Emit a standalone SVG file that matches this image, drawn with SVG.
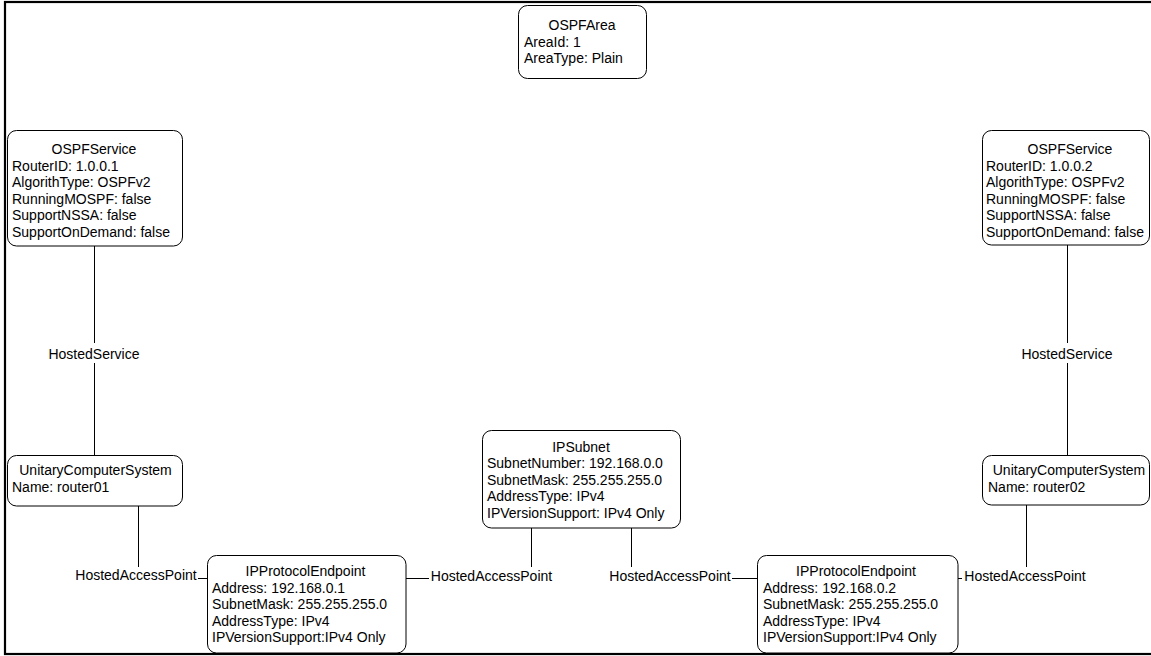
<svg xmlns="http://www.w3.org/2000/svg" width="1151" height="656" viewBox="0 0 1151 656">
  <style>
    .box { fill: #ffffff; stroke: #000000; stroke-width: 1; }
    .t { font-family: "Liberation Sans", Arial, sans-serif; font-size: 14px; fill: #000000; }
    .c { text-anchor: middle; }
    .wire { fill: none; stroke: #000000; stroke-width: 1; }
    .lblbg { fill: #ffffff; stroke: none; }
  </style>

  <rect width="1151" height="656" fill="#ffffff"/>
  <!-- outer frame (left, top and bottom edges; right edge runs past the canvas) -->
  <rect x="5" y="2" width="1170" height="652" fill="none" stroke="#000000" stroke-width="2.2"/>

  <!-- connectors -->
  <g id="connectors">
    <path class="wire" d="M94.5,246 V455"/>
    <path class="wire" d="M1067.5,245 V455"/>
    <path class="wire" d="M138.5,506 V578.5 H207"/>
    <path class="wire" d="M406,578.5 H531.5 V528"/>
    <path class="wire" d="M631.5,528 V578.5 H757"/>
    <path class="wire" d="M958,578.5 H1026.5 V505"/>

    <rect class="lblbg" x="47" y="343" width="95" height="20"/>
    <text class="t c" x="94" y="359">HostedService</text>
    <rect class="lblbg" x="1020" y="343" width="95" height="20"/>
    <text class="t c" x="1067" y="359">HostedService</text>

    <rect class="lblbg" x="74" y="567" width="124" height="18"/>
    <text class="t c" x="136" y="580">HostedAccessPoint</text>
    <rect class="lblbg" x="429" y="567" width="125" height="18"/>
    <text class="t c" x="491.5" y="581">HostedAccessPoint</text>
    <rect class="lblbg" x="608" y="567" width="124" height="18"/>
    <text class="t c" x="670" y="581">HostedAccessPoint</text>
    <rect class="lblbg" x="962" y="567" width="126" height="18"/>
    <text class="t c" x="1025" y="581">HostedAccessPoint</text>
  </g>

  <g id="ospf-area">
    <rect class="box" x="518.5" y="5.5" width="128" height="73" rx="9"/>
    <text class="t c" x="582" y="30">OSPFArea</text>
    <text class="t" x="524" y="46.5">AreaId: 1</text>
    <text class="t" x="524" y="63">AreaType: Plain</text>
  </g>

  <g id="ospf-service-1">
    <rect class="box" x="7.5" y="130.5" width="175" height="115.5" rx="9"/>
    <text class="t c" x="94" y="154">OSPFService</text>
    <text class="t" x="12" y="170.5">RouterID: 1.0.0.1</text>
    <text class="t" x="12" y="187">AlgorithType: OSPFv2</text>
    <text class="t" x="12" y="203.5">RunningMOSPF: false</text>
    <text class="t" x="12" y="220">SupportNSSA: false</text>
    <text class="t" x="12" y="236.5">SupportOnDemand: false</text>
  </g>

  <g id="ospf-service-2">
    <rect class="box" x="982.5" y="130.5" width="167" height="114.5" rx="9"/>
    <text class="t c" x="1070" y="154">OSPFService</text>
    <text class="t" x="986" y="170.5">RouterID: 1.0.0.2</text>
    <text class="t" x="986" y="187">AlgorithType: OSPFv2</text>
    <text class="t" x="986" y="203.5">RunningMOSPF: false</text>
    <text class="t" x="986" y="220">SupportNSSA: false</text>
    <text class="t" x="986" y="236.5">SupportOnDemand: false</text>
  </g>

  <g id="computer-system-1">
    <rect class="box" x="7.5" y="455.5" width="175" height="50.5" rx="9"/>
    <text class="t c" x="95.5" y="475">UnitaryComputerSystem</text>
    <text class="t" x="12" y="491.5">Name: router01</text>
  </g>

  <g id="computer-system-2">
    <rect class="box" x="982.5" y="455.5" width="167" height="49.5" rx="9"/>
    <text class="t c" x="1069" y="475">UnitaryComputerSystem</text>
    <text class="t" x="988" y="491.5">Name: router02</text>
  </g>

  <g id="ip-subnet">
    <rect class="box" x="482.5" y="430.5" width="198" height="97.5" rx="9"/>
    <text class="t c" x="581" y="451.5">IPSubnet</text>
    <text class="t" x="487" y="468">SubnetNumber: 192.168.0.0</text>
    <text class="t" x="487" y="484.5">SubnetMask: 255.255.255.0</text>
    <text class="t" x="487" y="501">AddressType: IPv4</text>
    <text class="t" x="487" y="517.5">IPVersionSupport: IPv4 Only</text>
  </g>

  <g id="ip-endpoint-1">
    <rect class="box" x="207.5" y="555.5" width="198.5" height="97.5" rx="9"/>
    <text class="t c" x="305.5" y="576">IPProtocolEndpoint</text>
    <text class="t" x="212" y="592.5">Address: 192.168.0.1</text>
    <text class="t" x="212" y="609">SubnetMask: 255.255.255.0</text>
    <text class="t" x="212" y="625.5">AddressType: IPv4</text>
    <text class="t" x="212" y="642">IPVersionSupport:IPv4 Only</text>
  </g>

  <g id="ip-endpoint-2">
    <rect class="box" x="757.5" y="555.5" width="200.5" height="97.5" rx="9"/>
    <text class="t c" x="856" y="576">IPProtocolEndpoint</text>
    <text class="t" x="763" y="592.5">Address: 192.168.0.2</text>
    <text class="t" x="763" y="609">SubnetMask: 255.255.255.0</text>
    <text class="t" x="763" y="625.5">AddressType: IPv4</text>
    <text class="t" x="763" y="642">IPVersionSupport:IPv4 Only</text>
  </g>
</svg>
